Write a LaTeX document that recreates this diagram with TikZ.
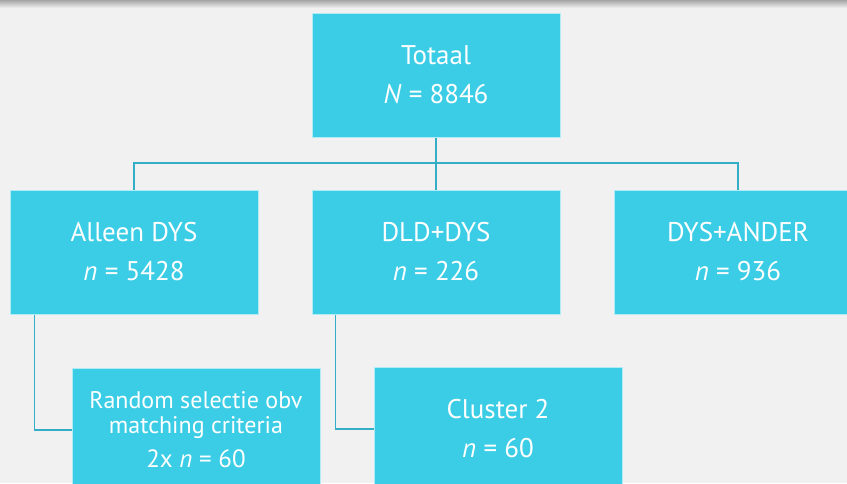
\documentclass[tikz,border=0pt]{standalone}
\usepackage{fontspec}
\setmainfont{PT Sans}
\definecolor{bg}{HTML}{F1F1F1}
\definecolor{boxc}{HTML}{3BCDE6}
\definecolor{linec}{HTML}{33AEC6}
\tikzset{
  box/.style={fill=boxc, draw=white!60!boxc, line width=1pt, minimum width=248pt,
    minimum height=124pt, inner sep=0pt, text=white, align=center,
    font=\fontsize{27}{39}\selectfont},
  smallbox/.style={box, font=\fontsize{24}{25}\selectfont},
  conn/.style={draw=linec, line width=1.4pt}
}
\begin{document}
\begin{tikzpicture}[x=1pt,y=-1pt]
\useasboundingbox (0,0) rectangle (847,483);
\clip (0,0) rectangle (847,483);
\fill[bg] (0,0) rectangle (847,483);
\shade[top color=black!35, bottom color=bg] (0,0) rectangle (847,8);
\node[box] (top) at (436,75) {Totaal\\\textit{N} = 8846};
\node[box] (a) at (134,252) {Alleen DYS\\\textit{n} = 5428};
\node[box] (b) at (436,252) {DLD+DYS\\\textit{n} = 226};
\node[box] (c) at (738,252) {DYS+ANDER\\\textit{n} = 936};
\node[smallbox] (d) at (196,430) {Random selectie obv\\matching criteria\\[9pt]\fontsize{25}{25}\selectfont 2x \textit{n} = 60};
\node[box] (e) at (498,429) {Cluster 2\\\textit{n} = 60};
\coordinate (bus) at (0,163);
\draw[conn] (top.south) -- (b.north);
\draw[conn] (a.north) -- (a.north |- bus) -- (c.north |- bus) -- (c.north);
\draw[conn] ([xshift=25pt]a.south west) |- (d.west);
\draw[conn] ([xshift=24pt]b.south west) |- (e.west);
\end{tikzpicture}
\end{document}
